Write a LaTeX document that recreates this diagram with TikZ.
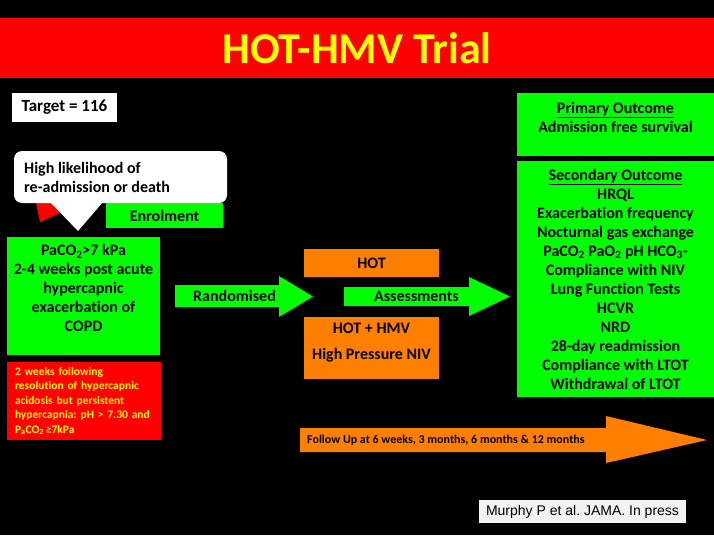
\documentclass[tikz,border=0pt]{standalone}
\usepackage{fontspec}
\setmainfont{Carlito}[Ligatures=NoCommon]
\newfontfamily\citefont{Liberation Sans}
\usepackage{tikz}
\usetikzlibrary{positioning}
\definecolor{trialgreen}{HTML}{00FF00}
\definecolor{trialred}{HTML}{FF0000}
\definecolor{trialorange}{HTML}{FF8000}
\definecolor{trialyellow}{HTML}{FFFF00}
\tikzset{
  greenbox/.style={fill=trialgreen,inner sep=0pt,align=center,font=\bfseries\fontsize{16}{19}\selectfont},
  orangebox/.style={fill=trialorange,inner sep=0pt,align=center,font=\bfseries\fontsize{16}{19}\selectfont},
  boxtext/.style={inner sep=0pt,align=center,font=\bfseries\fontsize{16}{19}\selectfont},
  smalltext/.style={inner sep=0pt,align=left,font=\bfseries\fontsize{11.5}{14.5}\selectfont}
}
\frenchspacing

\begin{document}
\begin{tikzpicture}[x=1pt,y=-1pt]
                \fill[black] (0,0) rectangle (714,535);
                \useasboundingbox (0,0) rectangle (714,535);
                % title
                \fill[trialred] (0,18) rectangle (714,78);
                \node[boxtext,text=trialyellow,font=\bfseries\fontsize{44}{50}\selectfont] (title) at (357,48) {HOT-HMV Trial};
                \node[fill=white,inner sep=0pt,minimum width=105,minimum height=29,font=\bfseries\fontsize{17}{20}\selectfont] (target) at (64.5,107.5) {Target = 116};
                % enrolment
                \node[greenbox,minimum width=117,minimum height=25] (enrol) at (164.5,215.5) {Enrolment};
                \fill[trialred] (36,203) -- (40,222) -- (62,212) -- (56,203) -- cycle;
                \fill[white,rounded corners=8pt] (14,151) rectangle (227,203);
                \fill[white] (50,202) -- (78,231) -- (103,202) -- cycle;
                \node[boxtext,align=left,anchor=west] (likely) at (24,177) {High likelihood of\\re-admission or death};
                \node[greenbox,minimum width=153,minimum height=118] (incl) at (83.5,296) {};
                \node[boxtext] (incltext) at ([yshift=8]incl.center) {PaCO\textsubscript{2}>7 kPa\\2-4 weeks post acute\\hypercapnic\\exacerbation of\\COPD};
                \node[smalltext,fill=trialred,text=trialyellow,text width=138,inner xsep=8,minimum height=78] (resol) at (84,401) {2 weeks following\\resolution of hypercapnic\\acidosis but persistent\\hypercapnia: pH > 7.30 and\\P\textsubscript{a}CO\textsubscript{2}\,≥7kPa};
                % arms
                \fill[trialgreen] (175,285) -- (279,285) -- (279,276) -- (313,296.5) -- (279,317) -- (279,307) -- (175,307) -- cycle;
                \node[boxtext] (rand) at (234.5,296) {Randomised};
                \node[orangebox,minimum width=135,minimum height=28] (hot) at (371.5,263) {HOT};
                \node[orangebox,minimum width=135,minimum height=62] (hmv) at (371.5,348) {};
                \node[boxtext] (hmvtext) at ([yshift=5]hmv.center) {HOT + HMV\\[7pt]High Pressure NIV};
                \fill[trialgreen] (344,287) -- (469,287) -- (469,277) -- (510,296.5) -- (469,316) -- (469,306) -- (344,306) -- cycle;
                \node[boxtext] (assess) at (416.5,296) {Assessments};
                % outcomes
                \node[greenbox,minimum width=197,minimum height=63] (primary) at (615.5,124.5) {};
                \node[boxtext] (primtext) at ([yshift=7.5]primary.center) {\underline{Primary Outcome}\\Admission free survival};
                \node[greenbox,minimum width=197,minimum height=236] (secondary) at (615.5,279) {\underline{Secondary Outcome}\\HRQL\\Exacerbation frequency\\Nocturnal gas exchange\\PaCO\textsubscript{2} PaO\textsubscript{2} pH HCO\textsubscript{3}-\\Compliance with NIV\\Lung Function Tests\\HCVR\\NRD\\28-day readmission\\Compliance with LTOT\\Withdrawal of LTOT};
                % follow up
                \fill[trialorange] (300,428) -- (606,428) -- (606,416) -- (707,440) -- (606,463) -- (606,452) -- (300,452) -- cycle;
                \node[smalltext,anchor=west,font=\bfseries\fontsize{12}{14}\selectfont] (follow) at (307,440) {Follow Up at 6 weeks, 3 months, 6 months \& 12 months};
                \node[fill=white!95!black,inner sep=0pt,minimum width=207,minimum height=23,font=\citefont\fontsize{14}{16}\selectfont] (cite) at (582.5,511.5) {Murphy P et al. JAMA. In press};
            \end{tikzpicture}
\end{document}
